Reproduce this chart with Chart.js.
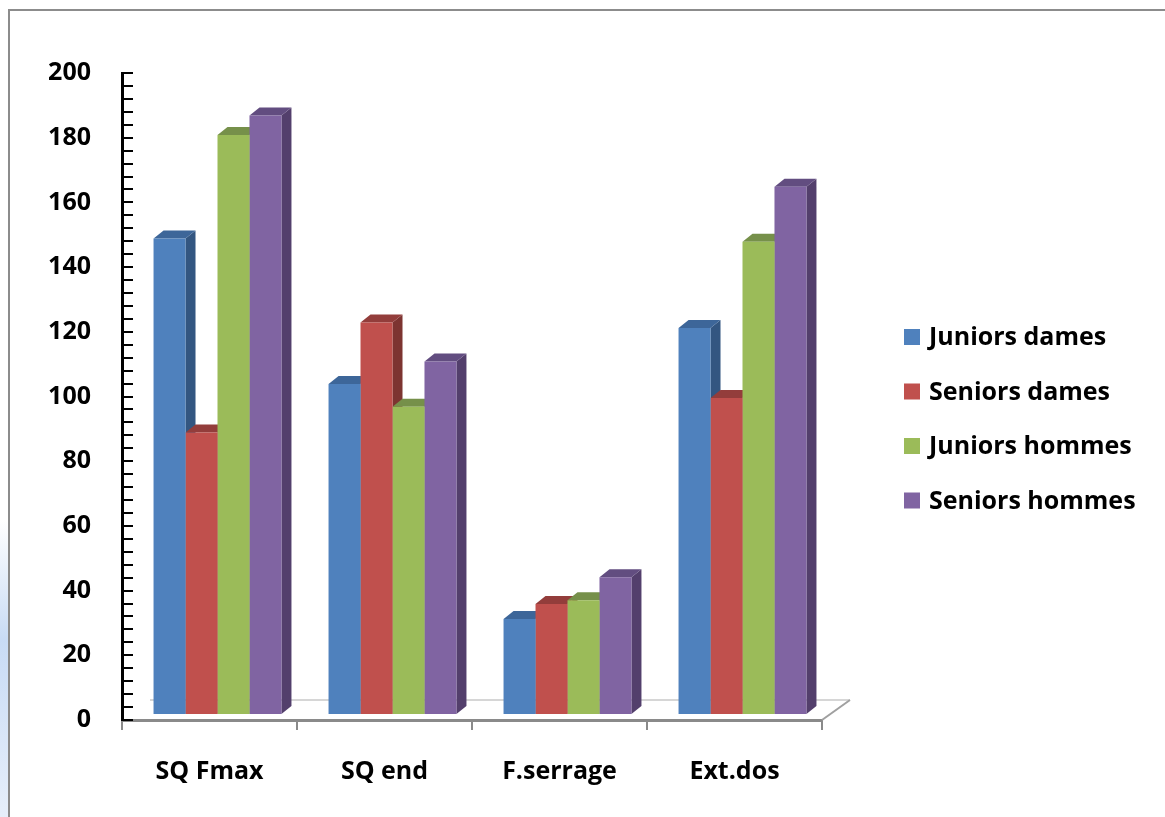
<!DOCTYPE html>
<html>
<head>
<meta charset="utf-8">
<script src="https://cdn.jsdelivr.net/npm/chart.js@4.4.1/dist/chart.umd.min.js"></script>
<style>
  html, body { margin: 0; padding: 0; background: #ffffff; }
  #wrap { position: relative; width: 1165px; height: 817px; overflow: hidden; background: #ffffff; }
  #glow { position: absolute; left: 0; top: 520px; width: 9px; height: 297px;
          background: linear-gradient(to bottom, rgba(214,228,247,0), rgba(200,219,245,1) 40%, rgba(214,228,247,0.6)); }
  #frame { position: absolute; left: 8px; top: 9px; width: 1200px; height: 900px;
           border-left: 2px solid #8c8c8c; border-top: 2px solid #8c8c8c; pointer-events: none; }
  canvas { position: absolute; left: 0; top: 0; }
</style>
</head>
<body>
<div id="wrap">
  <div id="glow"></div>
  <canvas id="c" width="1165" height="817"></canvas>
  <div id="frame"></div>
</div>
<script>
// ---- data ----
const categories = ['SQ Fmax', 'SQ end', 'F.serrage', 'Ext.dos'];
const seriesNames = ['Juniors dames', 'Seniors dames', 'Juniors hommes', 'Seniors hommes'];
const juniorsDames  = [147, 102, 29.4, 119.3];
const seniorsDames  = [87, 121, 34, 97.7];
const juniorsHommes = [179, 95, 35.2, 146];
const seniorsHommes = [185, 109, 42.3, 163];
const yMin = 0, yMax = 200, yStep = 20, yMinorStep = 4;

// ---- styles ----
const frontColors = ['#4F81BD', '#C0504D', '#9BBB59', '#8064A2'];
const topColors   = ['#3D6699', '#933D3B', '#76904A', '#624D80'];
const sideColors  = ['#335681', '#7D3431', '#667D3C', '#533F6C'];
const FONT = '"Open Sans", "Noto Sans", sans-serif';
const FONT_SIZE = 25;
const DEPTH_X = 10, DEPTH_Y = -8;      // 3D depth of each bar
const SHIFT_X = 8, SHIFT_Y = -6;       // bars sit back from the front axis plane
const FLOOR_X = 28, FLOOR_Y = -20;     // floor depth

const seriesValues = [juniorsDames, seniorsDames, juniorsHommes, seniorsHommes];

const threeD = {
  id: 'threeD',
  beforeDatasetsDraw(chart) {
    const ctx = chart.ctx, a = chart.chartArea;
    // floor
    ctx.save();
    ctx.lineWidth = 2;
    ctx.strokeStyle = '#d6d6d6';
    ctx.beginPath();
    ctx.moveTo(a.left + FLOOR_X, a.bottom + FLOOR_Y);
    ctx.lineTo(a.right + FLOOR_X, a.bottom + FLOOR_Y);
    ctx.stroke();
    ctx.strokeStyle = '#a0a0a0';
    ctx.beginPath();
    ctx.moveTo(a.right, a.bottom);
    ctx.lineTo(a.right + FLOOR_X, a.bottom + FLOOR_Y);
    ctx.stroke();
    ctx.restore();

    ctx.save();
    ctx.translate(SHIFT_X, SHIFT_Y);
    const metas = chart.data.datasets.map((d, i) => chart.getDatasetMeta(i));
    for (let j = 0; j < categories.length; j++) {
      metas.forEach((meta, i) => {
        const el = meta.data[j];
        if (!el) return;
        const p = el.getProps(['x', 'y', 'base', 'width'], true);
        const l = p.x - p.width / 2, r = p.x + p.width / 2;
        // side
        ctx.fillStyle = sideColors[i];
        ctx.beginPath();
        ctx.moveTo(r, p.y);
        ctx.lineTo(r + DEPTH_X, p.y + DEPTH_Y);
        ctx.lineTo(r + DEPTH_X, p.base + DEPTH_Y);
        ctx.lineTo(r, p.base);
        ctx.closePath();
        ctx.fill();
        // top
        ctx.fillStyle = topColors[i];
        ctx.beginPath();
        ctx.moveTo(l, p.y);
        ctx.lineTo(r, p.y);
        ctx.lineTo(r + DEPTH_X, p.y + DEPTH_Y);
        ctx.lineTo(l + DEPTH_X, p.y + DEPTH_Y);
        ctx.closePath();
        ctx.fill();
      });
    }
  },
  afterDatasetsDraw(chart) {
    chart.ctx.restore();
  }
};

const yMinorTicks = {
  id: 'yMinorTicks',
  afterDraw(chart) {
    const ctx = chart.ctx, y = chart.scales.y, a = chart.chartArea;
    ctx.save();
    ctx.strokeStyle = '#000000';
    ctx.lineWidth = 2;
    for (let v = yMin; v <= yMax; v += yMinorStep) {
      const py = Math.round(y.getPixelForValue(v));
      ctx.beginPath();
      ctx.moveTo(a.left, py);
      ctx.lineTo(a.left + 11, py);
      ctx.stroke();
    }
    ctx.restore();
  }
};

const sideLegend = {
  id: 'sideLegend',
  afterDraw(chart) {
    const ctx = chart.ctx;
    const x0 = 904, y0 = 337, gap = 54.5, box = 16;
    ctx.save();
    ctx.font = 'bold ' + FONT_SIZE + 'px ' + FONT;
    ctx.textBaseline = 'middle';
    ctx.textAlign = 'left';
    chart.data.datasets.forEach((ds, i) => {
      const cy = y0 + i * gap;
      ctx.fillStyle = ds.backgroundColor;
      ctx.fillRect(x0, cy - box / 2, box, box);
      ctx.fillStyle = '#000000';
      ctx.fillText(ds.label, x0 + 25, cy + 1);
    });
    ctx.restore();
  }
};

new Chart(document.getElementById('c'), {
  type: 'bar',
  data: {
    labels: categories,
    datasets: seriesNames.map((name, i) => ({
      label: name,
      data: seriesValues[i],
      backgroundColor: frontColors[i],
      borderWidth: 0,
      categoryPercentage: 0.731,
      barPercentage: 1.0,
      clip: false
    }))
  },
  options: {
    responsive: false,
    animation: false,
    devicePixelRatio: 1,
    layout: { padding: { left: 0, top: 73, right: 343, bottom: 0 } },
    plugins: { legend: { display: false }, tooltip: { enabled: false } },
    scales: {
      x: {
        afterFit(s) { s.height = 97; },
        grid: { display: true, drawOnChartArea: false, drawTicks: true, tickLength: 10,
                color: '#8a8a8a', lineWidth: 2 },
        border: { display: true, color: '#8a8a8a', width: 3 },
        ticks: { color: '#000000', padding: 27, font: { family: FONT, size: FONT_SIZE, weight: 'bold' } }
      },
      y: {
        min: yMin, max: yMax,
        afterFit(s) { s.width = 122; },
        grid: { display: false, drawTicks: false },
        border: { display: true, color: '#000000', width: 3 },
        ticks: { stepSize: yStep, color: '#000000', padding: 31,
                 font: { family: FONT, size: FONT_SIZE, weight: 'bold' } }
      }
    }
  },
  plugins: [threeD, yMinorTicks, sideLegend]
});
</script>
</body>
</html>
